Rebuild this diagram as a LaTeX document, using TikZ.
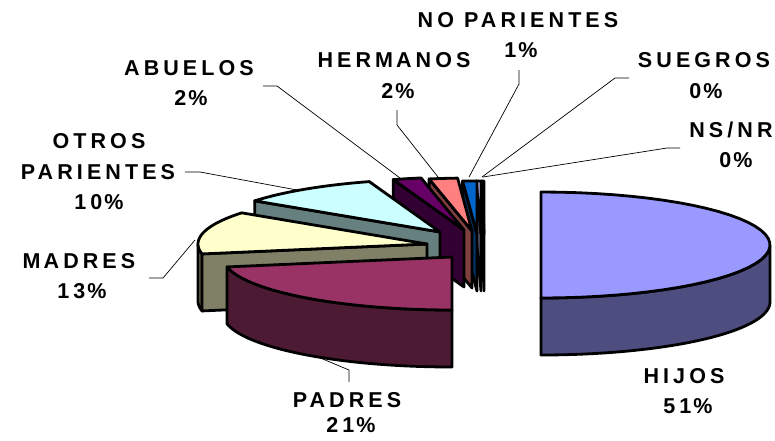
\documentclass[tikz,border=0pt]{standalone}
\usepackage{fontspec}
\newfontfamily\labfont{Liberation Sans}[LetterSpace=19]
\definecolor{hij}{HTML}{9999FF}
\definecolor{hijside}{HTML}{4D4D80}
\definecolor{pad}{HTML}{993366}
\definecolor{padside}{HTML}{4D1A33}
\definecolor{mad}{HTML}{FFFFCC}
\definecolor{madside}{HTML}{808066}
\definecolor{ot}{HTML}{CCFFFF}
\definecolor{otside}{HTML}{668080}
\definecolor{abu}{HTML}{660066}
\definecolor{abuside}{HTML}{330033}
\definecolor{her}{HTML}{FF8080}
\definecolor{herside}{HTML}{804040}
\definecolor{nop}{HTML}{0066CC}
\definecolor{nopside}{HTML}{003366}
\definecolor{sue}{HTML}{CCCCFF}
\definecolor{sueside}{HTML}{666680}
\definecolor{nsn}{HTML}{000080}
\definecolor{nsnside}{HTML}{000040}
\def\pA{229}
\def\pB{53}
\def\pH{57}
\newcommand{\pct}{\kern2pt\%}
% top face of a slice: centre x, centre y, start angle, end angle, colour
\newcommand{\pieTop}[5]{\filldraw[pieedge, fill=#5] (#1,#2) -- plot[domain=#3:#4, samples=40, variable=\ang] ({#1+\pA*sin(\ang)},{#2-\pB*cos(\ang)}) -- cycle;}
% outer curved side
\newcommand{\pieSide}[5]{\filldraw[pieedge, fill=#5] plot[domain=#3:#4, samples=40, variable=\ang] ({#1+\pA*sin(\ang)},{#2-\pB*cos(\ang)}) -- plot[domain=#4:#3, samples=40, variable=\ang] ({#1+\pA*sin(\ang)},{#2+\pH-\pB*cos(\ang)}) -- cycle;}
% radial cut face
\newcommand{\pieRad}[4]{\filldraw[pieedge, fill=#4] (#1,#2) -- ({#1+\pA*sin(#3)},{#2-\pB*cos(#3)}) -- ({#1+\pA*sin(#3)},{#2+\pH-\pB*cos(#3)}) -- (#1,{#2+\pH}) -- cycle;}
\begin{document}
\begin{tikzpicture}[x=1pt,y=-1pt,
  pieedge/.style={draw=black, line width=2.8pt, line join=round},
  leader/.style={draw=black, line width=0.7pt},
  lab/.style={font=\labfont\bfseries\fontsize{21.5}{21.5}\selectfont, inner sep=0pt, anchor=center, text=black}]
\fill[white] (0,0) rectangle (775,440);
\useasboundingbox (0,0) rectangle (775,440);

% leader lines
\coordinate (nopA) at (519,70);  \coordinate (nopB) at (519,84);  \coordinate (nopC) at (469,177);
\coordinate (herA) at (397,110); \coordinate (herB) at (397,125); \coordinate (herC) at (438,177);
\coordinate (sueA) at (629,78);  \coordinate (sueB) at (615,78);  \coordinate (sueC) at (482,177);
\coordinate (nsnA) at (680,148); \coordinate (nsnB) at (667,148); \coordinate (nsnC) at (483,177);
\coordinate (abuA) at (263,86);  \coordinate (abuB) at (277,86);  \coordinate (abuC) at (400,178);
\coordinate (otA) at (185,172);  \coordinate (otB) at (200,172);  \coordinate (otC) at (297,190);
\coordinate (madA) at (149,278); \coordinate (madB) at (163,278); \coordinate (madC) at (195,240);
\coordinate (padA) at (349,382); \coordinate (padB) at (349,370); \coordinate (padC) at (318,357);
\foreach \n in {nop,her,sue,nsn,abu,ot,mad,pad}{\draw[leader] (\n A) -- (\n B) -- (\n C);}

% back cluster of small slices
\pieRad{484}{234}{359.5}{nsnside}
\pieTop{484}{234}{359.5}{360}{nsn}
\pieRad{481}{234}{358.8}{sueside}
\pieTop{481}{234}{358.8}{360}{sue}
\pieRad{477}{234}{356.4}{nopside}
\pieTop{477}{234}{356.4}{360}{nop}
\pieRad{472}{231}{349.2}{herside}
\pieTop{472}{231}{349.2}{356.4}{her}
\pieRad{464}{230}{342}{abuside}
\pieTop{464}{230}{342}{349.2}{abu}
% otros parientes
\pieRad{440}{232}{306}{otside}
\pieTop{440}{232}{306}{342}{ot}
% madres
\pieSide{427}{244}{259.2}{270}{madside}
\pieRad{427}{244}{259.2}{madside}
\pieTop{427}{244}{259.2}{306}{mad}
% padres
\pieSide{452}{257}{180}{259.2}{padside}
\pieTop{452}{257}{180}{259.2}{pad}
% hijos
\pieSide{541}{245}{90}{180}{hijside}
\pieTop{541}{245}{0}{180}{hij}

% labels
\node[lab] (nopN) at (518,20) {NO PARIENTES};
\node[lab] (nopP) at (521,50) {1\pct};
\node[lab] (herN) at (394,60) {HERM\kern3pt ANOS};
\node[lab] (herP) at (398,91) {2\pct};
\node[lab] (sueN) at (704,60) {SUEGROS};
\node[lab] (sueP) at (706,91) {0\pct};
\node[lab] (nsnN) at (731,130) {NS/NR};
\node[lab] (nsnP) at (736,160) {0\pct};
\node[lab] (abuN) at (189,68) {ABUELOS};
\node[lab] (abuP) at (191,98) {2\pct};
\node[lab] (otN1) at (99,141) {OTROS};
\node[lab] (otN2) at (98,172) {PARIENTES};
\node[lab] (otP) at (99,202) {10\pct};
\node[lab] (madN) at (79,261) {M\kern3pt ADRES};
\node[lab] (madP) at (82,291) {13\pct};
\node[lab] (padN) at (347,400) {PADRES};
\node[lab] (padP) at (351,425) {21\pct};
\node[lab] (hijN) at (684,376) {HIJOS};
\node[lab] (hijP) at (688,406) {51\pct};
\end{tikzpicture}
\end{document}
